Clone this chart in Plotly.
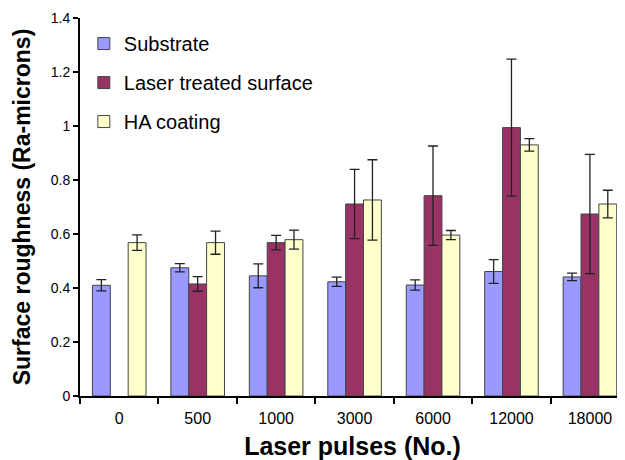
import plotly.graph_objects as go

categories = ["0", "500", "1000", "3000", "6000", "12000", "18000"]
substrate = [0.41, 0.475, 0.445, 0.423, 0.411, 0.461, 0.441]
substrate_err = [0.021, 0.015, 0.044, 0.017, 0.019, 0.044, 0.014]
laser = [None, 0.415, 0.568, 0.711, 0.742, 0.994, 0.674]
laser_err = [0, 0.027, 0.027, 0.128, 0.184, 0.254, 0.221]
ha = [0.568, 0.568, 0.579, 0.726, 0.596, 0.93, 0.711]
ha_err = [0.029, 0.043, 0.035, 0.149, 0.017, 0.023, 0.051]

FONT = "Liberation Sans, Arial, sans-serif"
err_style = dict(type="data", visible=True, color="#222222", thickness=1.3, width=5)
line_style = dict(color="#444444", width=1)

fig = go.Figure()
fig.add_trace(go.Bar(name="Substrate", x=categories, y=substrate,
                     error_y=dict(array=substrate_err, **err_style),
                     marker=dict(color="#9999FF", line=line_style), legendgroup="a"))
fig.add_trace(go.Bar(name="Laser treated surface", x=categories, y=laser,
                     error_y=dict(array=laser_err, **err_style),
                     marker=dict(color="#993366", line=line_style), legendgroup="b"))
fig.add_trace(go.Bar(name="HA coating", x=categories, y=ha,
                     error_y=dict(array=ha_err, **err_style),
                     marker=dict(color="#FFFFCC", line=line_style), legendgroup="c"))

fig.update_layout(
    width=617, height=452,
    margin=dict(l=72, r=0, t=10, b=64, autoexpand=False),
    paper_bgcolor="white", plot_bgcolor="white",
    barmode="group", bargap=0.317, bargroupgap=0,
    font=dict(family=FONT, color="black"),
    legend=dict(x=0.007, y=0.984, xanchor="left", yanchor="top",
                font=dict(size=20, family=FONT, color="black"),
                bgcolor="rgba(0,0,0,0)", tracegroupgap=10,
                traceorder="grouped"),
    showlegend=True,
)
fig.update_xaxes(
    type="category", range=[-0.5, 6.447], automargin=False,
    showline=True, linecolor="black", linewidth=2,
    ticks="outside", tickson="boundaries", ticklen=6, tickwidth=2, tickcolor="black",
    tickfont=dict(size=16, family=FONT, color="black"), ticklabelstandoff=7,
    showgrid=False, zeroline=False,
    title=dict(text="<b>Laser pulses (No.)</b>", font=dict(size=25, family=FONT, color="black"), standoff=17),
)
fig.update_yaxes(
    range=[0, 1.4], dtick=0.2, tick0=0, automargin=False,
    showline=True, linecolor="black", linewidth=2,
    ticks="outside", ticklen=5, tickwidth=2, tickcolor="black",
    tickfont=dict(size=14, family=FONT, color="black"),
    showgrid=False, zeroline=False,
    title=dict(text="<b>Surface roughness (Ra-microns)</b>", font=dict(size=23, family=FONT, color="black"), standoff=14),
)

fig.write_html("out.html")
